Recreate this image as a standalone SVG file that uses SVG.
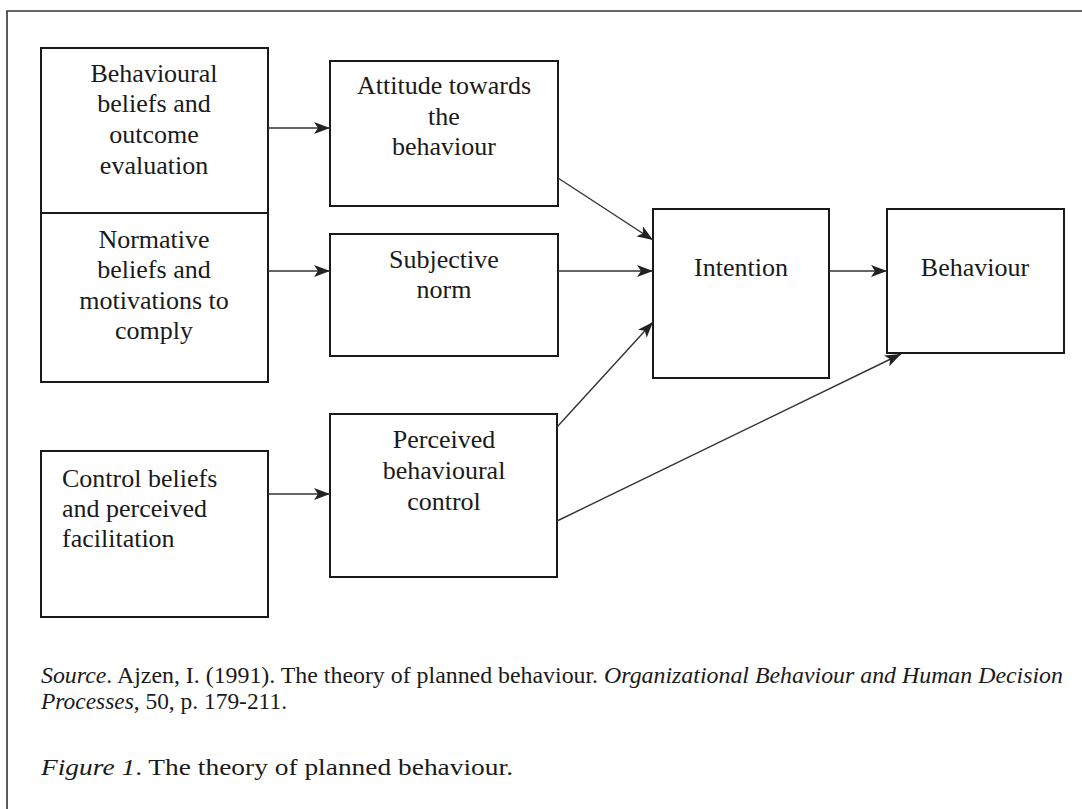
<svg xmlns="http://www.w3.org/2000/svg" width="1082" height="809" viewBox="0 0 1082 809">
<style>
.box{fill:#fff;stroke:#1a1a1a;stroke-width:2}
.t{font-family:"Liberation Serif","Times New Roman",serif;font-size:26px;fill:#1a1a1a;text-anchor:middle}
.tl{font-family:"Liberation Serif","Times New Roman",serif;font-size:26px;fill:#1a1a1a}
.cap{font-family:"Liberation Serif","Times New Roman",serif;font-size:23px;fill:#1a1a1a}
.conn line{stroke:#333;stroke-width:1.4;marker-end:url(#ah)}
</style>
<defs>
<marker id="ah" markerUnits="userSpaceOnUse" markerWidth="16" markerHeight="12" refX="16" refY="6" orient="auto">
<path d="M0,0 L16,6 L0,12 L4,6 Z" fill="#222"/>
</marker>
</defs>
<rect width="1082" height="809" fill="#fff"/>
<path d="M7,809 V11 H1082" fill="none" stroke="#333" stroke-width="1.6"/>

<g id="behavioural-beliefs">
<rect class="box" x="41" y="48" width="227" height="165"/>
<text class="t"><tspan x="154" y="82">Behavioural</tspan><tspan x="154" y="112">beliefs and</tspan><tspan x="154" y="143">outcome</tspan><tspan x="154" y="174">evaluation</tspan></text>
</g>
<g id="normative-beliefs">
<rect class="box" x="41" y="213" width="227" height="169"/>
<text class="t"><tspan x="154" y="248">Normative</tspan><tspan x="154" y="278">beliefs and</tspan><tspan x="154" y="309">motivations to</tspan><tspan x="154" y="339">comply</tspan></text>
</g>
<g id="control-beliefs">
<rect class="box" x="41" y="451" width="227" height="166"/>
<text class="tl"><tspan x="62" y="487">Control beliefs</tspan><tspan x="62" y="517">and perceived</tspan><tspan x="62" y="547">facilitation</tspan></text>
</g>
<g id="attitude">
<rect class="box" x="330" y="61" width="228" height="145"/>
<text class="t"><tspan x="444" y="94">Attitude towards</tspan><tspan x="444" y="125">the</tspan><tspan x="444" y="155">behaviour</tspan></text>
</g>
<g id="subjective-norm">
<rect class="box" x="330" y="234" width="228" height="122"/>
<text class="t"><tspan x="444" y="268">Subjective</tspan><tspan x="444" y="298">norm</tspan></text>
</g>
<g id="perceived-control">
<rect class="box" x="330" y="414" width="227" height="163"/>
<text class="t"><tspan x="444" y="448">Perceived</tspan><tspan x="444" y="479">behavioural</tspan><tspan x="444" y="510">control</tspan></text>
</g>
<g id="intention">
<rect class="box" x="653" y="209" width="176" height="169"/>
<text class="t" x="741" y="276">Intention</text>
</g>
<g id="behaviour">
<rect class="box" x="887" y="209" width="177" height="144"/>
<text class="t" x="975" y="276">Behaviour</text>
</g>

<g id="connectors" class="conn">
<line x1="268" y1="128" x2="330" y2="128"/>
<line x1="268" y1="271" x2="330" y2="271"/>
<line x1="268" y1="494" x2="330" y2="494"/>
<line x1="558" y1="178" x2="653" y2="240"/>
<line x1="558" y1="271" x2="653" y2="271"/>
<line x1="557" y1="427" x2="653" y2="322"/>
<line x1="557" y1="521" x2="901" y2="354"/>
<line x1="829" y1="271" x2="887" y2="271"/>
</g>

<g id="captions">
<text class="cap" y="683" x="41" textLength="1022" lengthAdjust="spacingAndGlyphs"><tspan font-style="italic">Source</tspan>. Ajzen, I. (1991). The theory of planned behaviour. <tspan font-style="italic">Organizational Behaviour and Human Decision</tspan></text>
<text class="cap" y="709" x="41" textLength="246" lengthAdjust="spacingAndGlyphs"><tspan font-style="italic">Processes</tspan>, 50, p. 179-211.</text>
<text class="cap" y="775" x="41" textLength="472" lengthAdjust="spacingAndGlyphs"><tspan font-style="italic">Figure 1</tspan>. The theory of planned behaviour.</text>
</g>
</svg>
